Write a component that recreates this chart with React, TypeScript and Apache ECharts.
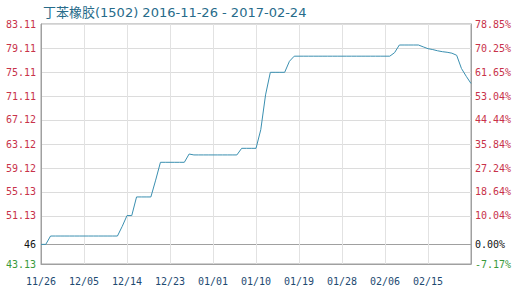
import React, { useEffect, useRef } from "react";
import * as echarts from "echarts";

const titleText = "丁苯橡胶(1502) 2016-11-26 - 2017-02-24";
const startDate = "2016-11-26";
const dayCount = 91;

const prices: number[] = [
  46.4, 46.4, 47.79, 47.79, 47.79, 47.79, 47.79, 47.79, 47.79, 47.79,
  47.79, 47.79, 47.79, 47.79, 47.79, 47.79, 47.79, 49.4, 51.2, 51.2,
  54.3, 54.3, 54.3, 54.3, 57.1, 60.07, 60.07, 60.07, 60.07, 60.07,
  60.07, 61.45, 61.3, 61.3, 61.3, 61.3, 61.3, 61.3, 61.3, 61.3,
  61.3, 61.3, 62.4, 62.4, 62.4, 62.4, 65.5, 71.3, 75.06, 75.06,
  75.06, 75.06, 76.9, 77.75, 77.75, 77.75, 77.75, 77.75, 77.75, 77.75,
  77.75, 77.75, 77.75, 77.75, 77.75, 77.75, 77.75, 77.75, 77.75, 77.75,
  77.75, 77.75, 77.75, 77.75, 78.33, 79.61, 79.61, 79.61, 79.61, 79.61,
  79.3, 79.0, 78.85, 78.65, 78.5, 78.4, 78.25, 77.9, 75.7, 74.4,
  73.2,
];

const tickValues: number[] = [43.13, 46.46, 51.13, 55.13, 59.12, 63.12, 67.12, 71.11, 75.11, 79.11, 83.11];
const leftLabels: string[] = ["43.13", "46", "51.13", "55.13", "59.12", "63.12", "67.12", "71.11", "75.11", "79.11", "83.11"];
const rightLabels: string[] = ["-7.17%", "0.00%", "10.04%", "18.64%", "27.24%", "35.84%", "44.44%", "53.04%", "61.65%", "70.25%", "78.85%"];
const axisMin = 43.13;
const axisMax = 83.11;
const baseIndex = 1;

function buildDates(): string[] {
  const out: string[] = [];
  const d0 = new Date(startDate + "T00:00:00Z");
  for (let i = 0; i < dayCount; i++) {
    const d = new Date(d0.getTime() + i * 86400000);
    const m = String(d.getUTCMonth() + 1).padStart(2, "0");
    const dd = String(d.getUTCDate()).padStart(2, "0");
    out.push(m + "/" + dd);
  }
  return out;
}

function tickIndex(v: any): number {
  const n = typeof v === "number" ? v : parseFloat(v);
  for (let i = 0; i < tickValues.length; i++) {
    if (Math.abs(tickValues[i] - n) < 1e-6) return i;
  }
  return -1;
}

const RED = "#c8324a";
const GREEN = "#3a9a3a";
const BLACK = "#111";

function labelColor(v: any): string {
  const i = tickIndex(v);
  if (i < baseIndex) return GREEN;
  if (i === baseIndex) return BLACK;
  return RED;
}

export default function App() {
  const ref = useRef<HTMLDivElement>(null);
  useEffect(() => {
    if (!ref.current) return;
    const chart = echarts.init(ref.current, undefined, { renderer: "svg" });
    const dates = buildDates();
    const splitColors = tickValues.map((_, i) => (i === baseIndex ? "#a0a0a0" : "#dcdcdc"));
    const labelFont = "DejaVu Sans Mono";
    chart.setOption({
      animation: false,
      backgroundColor: "#fff",
      title: {
        text: titleText,
        left: 38,
        top: 1,
        textStyle: { fontSize: 13, fontWeight: "normal", color: "#276b8a", fontFamily: "DejaVu Sans, Noto Sans CJK SC" },
      },
      grid: { left: 41, right: 45, top: 24, bottom: 27, show: true, borderColor: "#a0a0a0", borderWidth: 1 },
      xAxis: {
        type: "category",
        data: dates,
        boundaryGap: false,
        axisLine: { lineStyle: { color: "#a0a0a0" } },
        axisTick: { show: false },
        axisLabel: {
          interval: (i: number) => i % 9 === 0 && i < 90,
          color: "#1e4a72",
          fontSize: 10,
          fontFamily: labelFont,
          margin: 12,
        },
        splitLine: {
          show: true,
          interval: (i: number) => i % 9 === 0 && i < 90,
          lineStyle: { color: "#e2e2e2", width: 1 },
        },
      },
      yAxis: [
        {
          type: "value",
          min: axisMin,
          max: axisMax,
          position: "left",
          axisLine: { show: true, lineStyle: { color: "#a0a0a0" } },
          axisTick: { show: false, customValues: tickValues },
          axisLabel: {
            customValues: tickValues,
            formatter: (v: any) => leftLabels[tickIndex(v)] ?? "",
            color: (v: any) => labelColor(v),
            fontSize: 10,
            fontFamily: labelFont,
            margin: 5,
          },
          splitLine: { show: true, lineStyle: { color: splitColors, width: 1 } },
        },
        {
          type: "value",
          min: axisMin,
          max: axisMax,
          position: "right",
          axisLine: { show: true, lineStyle: { color: "#a0a0a0" } },
          axisTick: { show: false, customValues: tickValues },
          axisLabel: {
            customValues: tickValues,
            formatter: (v: any) => rightLabels[tickIndex(v)] ?? "",
            color: (v: any) => labelColor(v),
            fontSize: 10,
            fontFamily: labelFont,
            margin: 4,
          },
          splitLine: { show: false },
        },
      ],
      series: [
        {
          type: "line",
          data: prices,
          yAxisIndex: 0,
          symbol: "none",
          lineStyle: { color: "#3a8fb0", width: 1 },
          itemStyle: { color: "#3a8fb0" },
        },
      ],
    });
    return () => chart.dispose();
  }, []);
  return (
    <div
      ref={ref}
      style={{ position: "fixed", left: 0, top: 0, width: 516, height: 291, background: "#fff" }}
    />
  );
}
